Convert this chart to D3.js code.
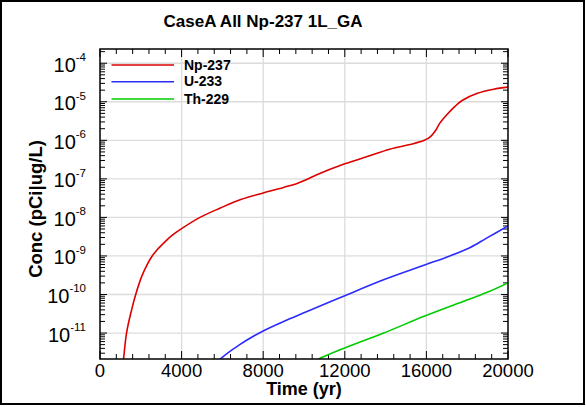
<!DOCTYPE html>
<html><head><meta charset="utf-8">
<script src="https://cdn.jsdelivr.net/npm/d3@7"></script>
<style>
html,body{margin:0;padding:0;background:#fff;}
svg{display:block;font-family:Arial,"Liberation Sans",sans-serif;}
</style></head>
<body>
<svg id="c" width="586" height="407"></svg>
<script>
const title = "CaseA All Np-237 1L_GA";
const xTitle = "Time (yr)";
const yTitle = "Conc (pCi|ug/L)";
const xTicks = [0, 4000, 8000, 12000, 16000, 20000];
const yExponents = [-4, -5, -6, -7, -8, -9, -10, -11];
const seriesNames = ["Np-237", "U-233", "Th-229"];
const seriesColors = ["#dd0000", "#2b2bff", "#00cc00"];

const npTime = [1100, 1150, 1300, 1550, 1750, 2050, 2300, 2550, 2800, 3100, 3500, 4000, 4900, 5900, 6900, 8000, 9000, 9600, 10100, 10600, 12000, 13100, 14200, 15200, 15900, 16200, 16450, 16650, 17000, 17400, 17750, 18500, 19300, 20000];
const npConc = [1.2e-12, 2.0e-12, 1.0e-11, 4.0e-11, 1.0e-10, 3.0e-10, 5.8e-10, 9.8e-10, 1.45e-9, 2.1e-9, 3.3e-9, 5.1e-9, 1.0e-8, 1.75e-8, 2.9e-8, 4.3e-8, 6.0e-8, 7.4e-8, 9.5e-8, 1.26e-7, 2.45e-7, 3.8e-7, 5.9e-7, 7.8e-7, 1.0e-6, 1.25e-6, 1.8e-6, 2.75e-6, 4.6e-6, 7.6e-6, 1.08e-5, 1.66e-5, 2.12e-5, 2.4e-5];

const uTime = [5700, 5900, 6850, 7950, 9000, 10150, 12000, 13900, 15950, 17150, 18150, 18950, 20000];
const uConc = [1.5e-12, 2.1e-12, 5.0e-12, 1.1e-11, 2.0e-11, 3.6e-11, 9.3e-11, 2.4e-10, 5.9e-10, 1.0e-9, 1.66e-9, 2.9e-9, 6.0e-9];

const thTime = [10500, 10700, 12000, 13900, 15950, 17800, 18950, 20000];
const thConc = [1.8e-12, 2.1e-12, 4.1e-12, 1.0e-11, 2.8e-11, 6.6e-11, 1.12e-10, 2.0e-10];

const series = [
  {name: seriesNames[0], color: seriesColors[0], t: npTime, c: npConc},
  {name: seriesNames[1], color: seriesColors[1], t: uTime, c: uConc},
  {name: seriesNames[2], color: seriesColors[2], t: thTime, c: thConc}
];

const svg = d3.select("#c");
const L = 100, R = 508, T = 49, B = 359;
const x = d3.scaleLinear().domain([0, 20000]).range([L, R]);
const y = d3.scaleLog().domain([2.12e-12, 2.34e-4]).range([B, T]);

// outer border
svg.append("rect").attr("x", 1).attr("y", 1).attr("width", 583).attr("height", 403)
  .attr("fill", "none").attr("stroke", "#000").attr("stroke-width", 2);

// gridlines
const grid = svg.append("g").attr("stroke", "#dcdcdc").attr("stroke-width", 1.3);
xTicks.slice(1, -1).forEach(v => grid.append("line").attr("x1", x(v)).attr("x2", x(v)).attr("y1", T).attr("y2", B));
yExponents.forEach(e => grid.append("line").attr("x1", L).attr("x2", R).attr("y1", y(Math.pow(10, e))).attr("y2", y(Math.pow(10, e))));

// ticks
const tk = svg.append("g").attr("stroke", "#000").attr("stroke-width", 1);
for (let v = 0; v <= 20000; v += 800) {
  const major = v % 4000 === 0;
  const len = major ? 8 : 5;
  tk.append("line").attr("x1", x(v)).attr("x2", x(v)).attr("y1", B).attr("y2", B - len);
  tk.append("line").attr("x1", x(v)).attr("x2", x(v)).attr("y1", T).attr("y2", T + len);
}
for (let e = -12; e <= -4; e++) {
  for (let m = 1; m <= 9; m++) {
    const v = m * Math.pow(10, e);
    if (v < y.domain()[0] || v > y.domain()[1]) continue;
    const len = m === 1 ? 7 : 5;
    const yy = y(v);
    tk.append("line").attr("x1", L).attr("x2", L + len).attr("y1", yy).attr("y2", yy);
    tk.append("line").attr("x1", R).attr("x2", R - len).attr("y1", yy).attr("y2", yy);
  }
}

// series
const clip = svg.append("clipPath").attr("id", "pc");
clip.append("rect").attr("x", L).attr("y", T).attr("width", R - L).attr("height", B - T);
const line = d3.line().x(d => x(d[0])).y(d => y(d[1])).curve(d3.curveCatmullRom.alpha(0.5));
const lg = svg.append("g").attr("clip-path", "url(#pc)");
series.forEach(s => {
  lg.append("path").attr("d", line(s.t.map((t, i) => [t, s.c[i]])))
    .attr("fill", "none").attr("stroke", s.color).attr("stroke-width", 1.6);
});

// frame
svg.append("rect").attr("x", L).attr("y", T).attr("width", R - L).attr("height", B - T)
  .attr("fill", "none").attr("stroke", "#000").attr("stroke-width", 1.5);

// x tick labels
xTicks.forEach(v => svg.append("text").attr("x", x(v)).attr("y", 377).attr("text-anchor", "middle")
  .attr("font-size", 18.5).attr("fill", "#000").text(v));

// y tick labels
yExponents.forEach(e => {
  const t = svg.append("text").attr("x", 86).attr("y", y(Math.pow(10, e)) + 8.5)
    .attr("text-anchor", "end").attr("fill", "#000");
  t.append("tspan").attr("font-size", 20).text("10");
  t.append("tspan").attr("font-size", 11.5).attr("dy", -10.5).text(e);
});

// titles
svg.append("text").attr("x", 263).attr("y", 26.5).attr("text-anchor", "middle")
  .attr("font-size", 17).attr("font-weight", "bold").text(title);
svg.append("text").attr("x", 304).attr("y", 395).attr("text-anchor", "middle")
  .attr("font-size", 18).attr("font-weight", "bold").text(xTitle);
svg.append("text").attr("transform", "translate(42,209) rotate(-90)").attr("text-anchor", "middle")
  .attr("font-size", 18.5).attr("font-weight", "bold").text(yTitle);

// legend
const legY = [65, 81.7, 99];
series.forEach((s, i) => {
  svg.append("line").attr("x1", 111.5).attr("x2", 174).attr("y1", legY[i]).attr("y2", legY[i])
    .attr("stroke", s.color).attr("stroke-width", 1.6);
  svg.append("text").attr("x", 184).attr("y", legY[i] + 4.5).attr("font-size", 14)
    .attr("font-weight", "bold").text(s.name);
});
</script>
</body></html>
